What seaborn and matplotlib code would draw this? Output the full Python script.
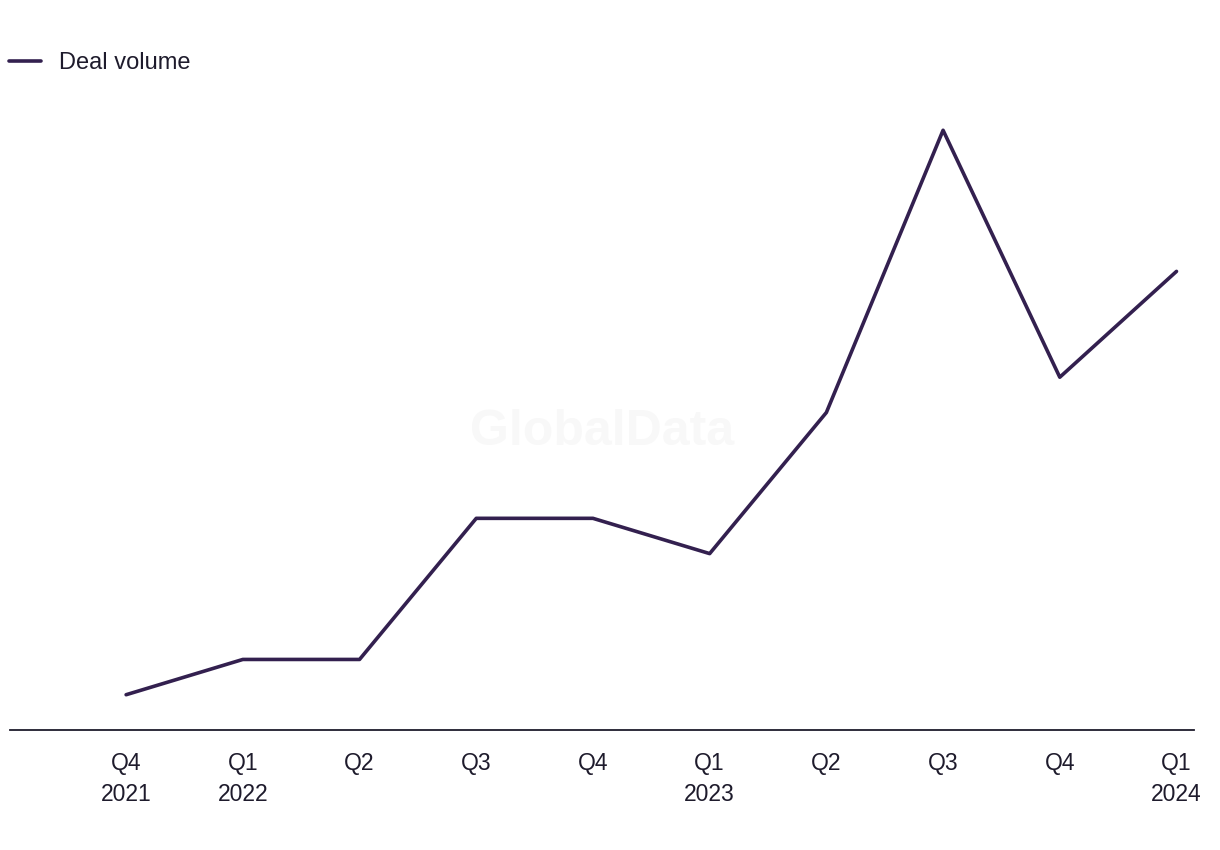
import matplotlib
matplotlib.use("Agg")
import matplotlib.pyplot as plt
import seaborn as sns
import pandas as pd

quarters = ["Q4\n2021", "Q1\n2022", "Q2", "Q3", "Q4", "Q1\n2023", "Q2", "Q3", "Q4", "Q1\n2024"]
deal_volume = [1, 2, 2, 6, 6, 5, 9, 17, 10, 13]

sns.set_theme(style="white")
plt.rcParams['font.family'] = ['Liberation Sans', 'DejaVu Sans']

line_color = "#33204f"
text_color = "#1e1b2c"

df = pd.DataFrame({"idx": range(len(quarters)), "Deal volume": deal_volume})

fig = plt.figure(figsize=(12.2, 8.5), dpi=100)
ax = fig.add_axes([10/1220, 120/850, (1194-10)/1220, (730-95)/850])

sns.lineplot(data=df, x="idx", y="Deal volume", ax=ax, color=line_color,
             linewidth=2.6, label="Deal volume", legend=False)

ax.set_xlim(-0.995, 9.15)
ax.set_ylim(0, 18)
ax.set_xticks(range(len(quarters)))
ax.set_xticklabels(quarters, fontsize=16.5, color=text_color, linespacing=1.45)
ax.tick_params(axis="x", length=0, pad=15.5)
ax.set_yticks([])
ax.set_xlabel("")
ax.set_ylabel("")
for s in ["left", "right", "top"]:
    ax.spines[s].set_visible(False)
ax.spines["bottom"].set_color(text_color)
ax.spines["bottom"].set_linewidth(1.3)

ax.text(0.5, 0.47, "GlobalData", transform=ax.transAxes, ha="center", va="center",
        fontsize=36, fontweight="bold", color="#f8f8f8", zorder=0)

handles, labels = ax.get_legend_handles_labels()
fig.legend(handles, labels, loc="upper left", bbox_to_anchor=(9/1220, 1 - 52/850),
           frameon=False, fontsize=17, handlelength=1.36, handletextpad=0.76,
           labelcolor=text_color, borderaxespad=0, borderpad=0)

fig.savefig("out.png", dpi=100, facecolor="white")
